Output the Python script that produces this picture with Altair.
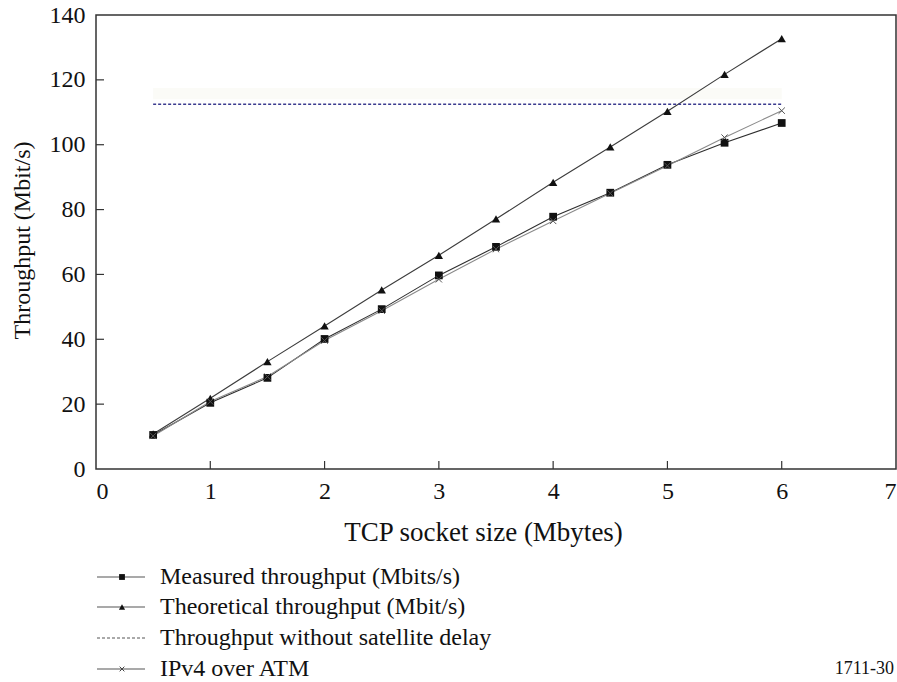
import altair as alt
import pandas as pd

# TCP socket size (Mbytes)
sizes = [0.5, 1.0, 1.5, 2.0, 2.5, 3.0, 3.5, 4.0, 4.5, 5.0, 5.5, 6.0]
# Throughput series (Mbit/s)
measured = [10.5, 20.4, 28.1, 40.1, 49.3, 59.7, 68.5, 77.8, 85.2, 93.8, 100.6, 106.7]
theoretical = [10.8, 21.8, 33.1, 44.1, 55.2, 65.9, 77.1, 88.4, 99.3, 110.3, 121.7, 132.7]
ipv4_atm = [10.2, 20.8, 28.5, 39.6, 48.8, 58.5, 67.8, 76.5, 85.0, 93.5, 102.2, 110.5]
no_delay_level = 112.5
no_delay_span = [0.5, 6.0]

series_names = [
    "Measured throughput (Mbits/s)",
    "Theoretical throughput (Mbit/s)",
    "Throughput without satellite delay",
    "IPv4 over ATM",
]
x_ticks = [1, 2, 3, 4, 5, 6]
y_ticks = [20, 40, 60, 80, 100, 120]
figure_tag = "1711-30"

FONT = "Liberation Serif"
W, H = 800, 454

rows = []
for name, vals in [(series_names[0], measured), (series_names[1], theoretical), (series_names[3], ipv4_atm)]:
    for s, v in zip(sizes, vals):
        rows.append({"size": s, "throughput": v, "series": name})
df = pd.DataFrame(rows)

line_colors = ["#2e2e2e", "#3c3c3c", "#8a8a8a"]
line_domain = [series_names[0], series_names[1], series_names[3]]

x_scale = alt.Scale(domain=[0, 7], nice=False)
y_scale = alt.Scale(domain=[0, 140], nice=False)

x_enc = alt.X("size:Q", scale=x_scale,
              axis=alt.Axis(values=[0, 1, 2, 3, 4, 5, 6, 7], format="d", title="TCP socket size (Mbytes)",
                            titleX=387, titleY=63, titleBaseline="middle", titleAlign="center",
                            titleFontSize=27))
y_enc = alt.Y("throughput:Q", scale=y_scale,
              axis=alt.Axis(values=[0, 20, 40, 60, 80, 100, 120, 140], title="Throughput (Mbit/s)",
                            titleX=-74, titleY=225, titleBaseline="middle", titleAlign="center",
                            titleFontSize=24))

base = alt.Chart(df)

lines = base.mark_line(strokeWidth=1.1).encode(
    x=x_enc, y=y_enc,
    color=alt.Color("series:N", scale=alt.Scale(domain=line_domain, range=line_colors), legend=None),
    detail="series:N",
)

squares = base.transform_filter(alt.datum.series == series_names[0]).mark_point(
    shape="square", filled=True, size=60, color="#111111", opacity=1
).encode(x="size:Q", y="throughput:Q")

triangles = base.transform_filter(alt.datum.series == series_names[1]).mark_point(
    shape="triangle-up", filled=True, size=70, color="#111111", opacity=1
).encode(x="size:Q", y="throughput:Q")

X_PATH = "M-1,-1L1,1M-1,1L1,-1"
crosses = base.transform_filter(alt.datum.series == series_names[3]).mark_point(
    shape=X_PATH, filled=False, size=40, color="#555555", strokeWidth=1, opacity=1
).encode(x="size:Q", y="throughput:Q")

# faint shading just above the no-delay level
band_df = pd.DataFrame({"x": [no_delay_span[0]], "x2": [no_delay_span[1]],
                        "y": [no_delay_level + 1.5], "y2": [no_delay_level + 5.0]})
band = alt.Chart(band_df).mark_rect(color="#f8f7ef", opacity=0.5).encode(
    x="x:Q", x2="x2:Q", y="y:Q", y2="y2:Q")

no_delay_df = pd.DataFrame({"size": no_delay_span, "throughput": [no_delay_level] * 2})
no_delay = alt.Chart(no_delay_df).mark_line(
    color="#3b3b8f", strokeDash=[3, 2], strokeWidth=1.4
).encode(x="size:Q", y="throughput:Q")

# inward-pointing axis ticks
yt = alt.Chart(pd.DataFrame({"throughput": y_ticks})).mark_rule(color="#333333", strokeWidth=1.2).encode(
    y="throughput:Q", x=alt.value(0), x2=alt.value(8))
xt = alt.Chart(pd.DataFrame({"size": x_ticks})).mark_rule(color="#333333", strokeWidth=1.2).encode(
    x="size:Q", y=alt.value(H), y2=alt.value(H - 8))

# legend below the plot
legend_layers = []
row_y = [562, 592, 623, 654]
marker_specs = [
    dict(shape="square", filled=True, size=34, color="#111111"),
    dict(shape="triangle-up", filled=True, size=38, color="#111111"),
    None,
    dict(shape=X_PATH, filled=False, size=22, color="#444444", strokeWidth=1),
]
for i, name in enumerate(series_names):
    ldf = pd.DataFrame({"label": [name]})
    if i == 2:
        seg = alt.Chart(ldf).mark_rule(color="#555555", strokeDash=[3, 2], strokeWidth=1).encode(
            x=alt.value(1), x2=alt.value(49), y=alt.value(row_y[i]))
    else:
        seg = alt.Chart(ldf).mark_rule(color="#555555", strokeWidth=1.2).encode(
            x=alt.value(1), x2=alt.value(49), y=alt.value(row_y[i]))
    legend_layers.append(seg)
    if marker_specs[i] is not None:
        legend_layers.append(
            alt.Chart(ldf).mark_point(opacity=1, **marker_specs[i]).encode(
                x=alt.value(26), y=alt.value(row_y[i])))
    legend_layers.append(
        alt.Chart(ldf).mark_text(align="left", baseline="middle", font=FONT, fontSize=24, color="#111111").encode(
            x=alt.value(64), y=alt.value(row_y[i]), text="label:N"))

tag = alt.Chart(pd.DataFrame({"label": [figure_tag]})).mark_text(
    align="right", baseline="middle", font=FONT, fontSize=18, color="#111111"
).encode(x=alt.value(798), y=alt.value(row_y[3]), text="label:N")

chart = alt.layer(band, lines, no_delay, squares, triangles, crosses, yt, xt, *legend_layers, tag).properties(
    width=W, height=H,
    autosize=alt.AutoSizeParams(type="none"),
    padding={"left": 96, "top": 15, "right": 1, "bottom": 213},
).configure_view(
    stroke="#333333", strokeWidth=1.5
).configure_axis(
    domain=False, ticks=False, grid=False,
    labelFont=FONT, labelFontSize=24, labelColor="#111111",
    titleFont=FONT, titleColor="#111111", titleFontWeight="normal",
).configure_axisX(labelPadding=10).configure_axisY(labelPadding=11)

chart.save("out.html", embed_options={"renderer": "svg", "actions": False})
